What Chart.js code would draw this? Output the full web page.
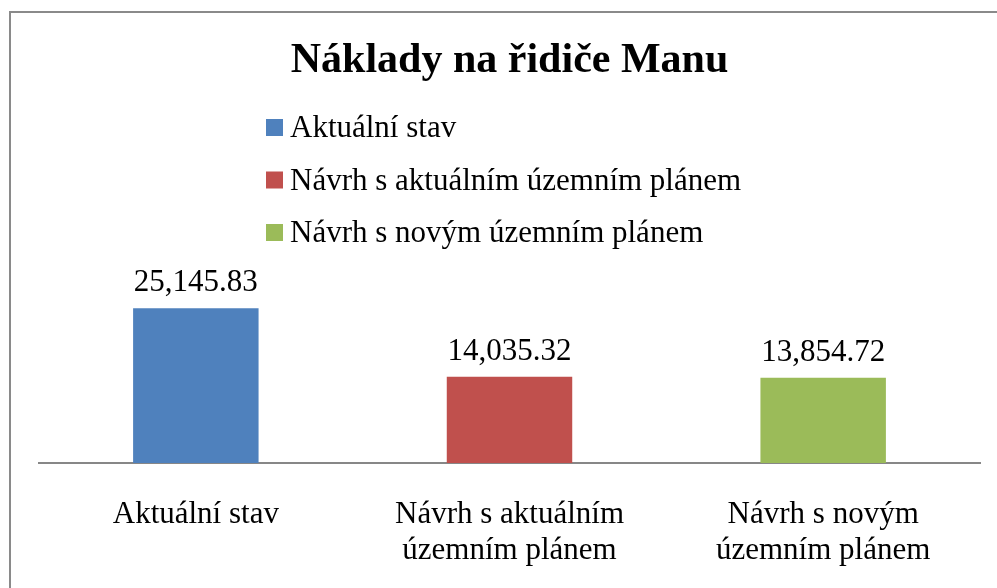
<!DOCTYPE html>
<html>
<head>
<meta charset="utf-8">
<script src="https://cdn.jsdelivr.net/npm/chart.js@4.4.1/dist/chart.umd.min.js"></script>
<style>
  html, body { margin: 0; padding: 0; background: #fff; overflow: hidden; }
  #chart { display: block; }
</style>
</head>
<body>
<canvas id="chart" width="997" height="588"></canvas>
<script>
var categories = ["Aktuální stav", "Návrh s aktuálním územním plánem", "Návrh s novým územním plánem"];
var axisLabels = [["Aktuální stav"], ["Návrh s aktuálním", "územním plánem"], ["Návrh s novým", "územním plánem"]];
var costs = [25145.83, 14035.32, 13854.72];
var barColors = ['#4F81BD', '#C0504D', '#9BBB59'];

var serif = '"Liberation Serif", "Times New Roman", serif';

// frame (left and top edge only, the rest is cut off in the picture)
var framePlugin = {
    id: 'frame',
    beforeDraw: function (chart) {
        var ctx = chart.ctx;
        ctx.save();
        ctx.fillStyle = '#fff';
        ctx.fillRect(0, 0, chart.width, chart.height);
        ctx.strokeStyle = '#8a8a8a';
        ctx.lineWidth = 2;
        ctx.beginPath();
        ctx.moveTo(10, chart.height);
        ctx.lineTo(10, 12);
        ctx.lineTo(chart.width, 12);
        ctx.stroke();
        ctx.restore();
    }
};

// vertical legend under the title
var legendPlugin = {
    id: 'stackLegend',
    afterDraw: function (chart) {
        var ctx = chart.ctx;
        var ds = chart.data.datasets[0];
        ctx.save();
        ctx.font = '31px ' + serif;
        ctx.textBaseline = 'middle';
        ctx.textAlign = 'left';
        for (var i = 0; i < categories.length; i++) {
            var y = 128 + i * 52.5;
            ctx.fillStyle = ds.backgroundColor[i];
            ctx.fillRect(266, y - 9, 17, 17);
            ctx.fillStyle = '#000';
            ctx.fillText(categories[i], 290, y + 1);
        }
        ctx.restore();
    }
};

// value labels above the bars
var valuePlugin = {
    id: 'values',
    afterDatasetsDraw: function (chart) {
        var ctx = chart.ctx;
        var meta = chart.getDatasetMeta(0);
        ctx.save();
        ctx.font = '31px ' + serif;
        ctx.fillStyle = '#000';
        ctx.textAlign = 'center';
        ctx.textBaseline = 'middle';
        meta.data.forEach(function (bar, i) {
            var txt = costs[i].toLocaleString('en-US', { minimumFractionDigits: 2, maximumFractionDigits: 2 });
            ctx.fillText(txt, bar.x, bar.y - 25);
        });
        ctx.restore();
    }
};

new Chart(document.getElementById('chart').getContext('2d'), {
    type: 'bar',
    data: {
        labels: axisLabels,
        datasets: [{
            label: 'Náklady',
            data: costs,
            backgroundColor: barColors,
            categoryPercentage: 1,
            barPercentage: 0.4
        }]
    },
    options: {
        responsive: false,
        animation: false,
        devicePixelRatio: 1,
        layout: { padding: { left: 39, right: 17, top: 0, bottom: 0 } },
        plugins: {
            legend: { display: false },
            tooltip: { enabled: false },
            title: {
                display: true,
                text: 'Náklady na řidiče Manu',
                color: '#000',
                font: { family: serif, size: 42, weight: 'bold', lineHeight: 1.2 },
                padding: { top: 36, bottom: 192 }
            }
        },
        scales: {
            x: {
                grid: { display: false, drawTicks: false },
                border: { color: '#878787', width: 2 },
                ticks: {
                    color: '#000',
                    font: { family: serif, size: 31, lineHeight: 1.16 },
                    padding: 34,
                    maxRotation: 0,
                    autoSkip: false
                },
                afterFit: function (scale) { scale.height = 125; }
            },
            y: {
                display: false,
                min: 0,
                max: 30000
            }
        }
    },
    plugins: [framePlugin, legendPlugin, valuePlugin]
});
</script>
</body>
</html>
